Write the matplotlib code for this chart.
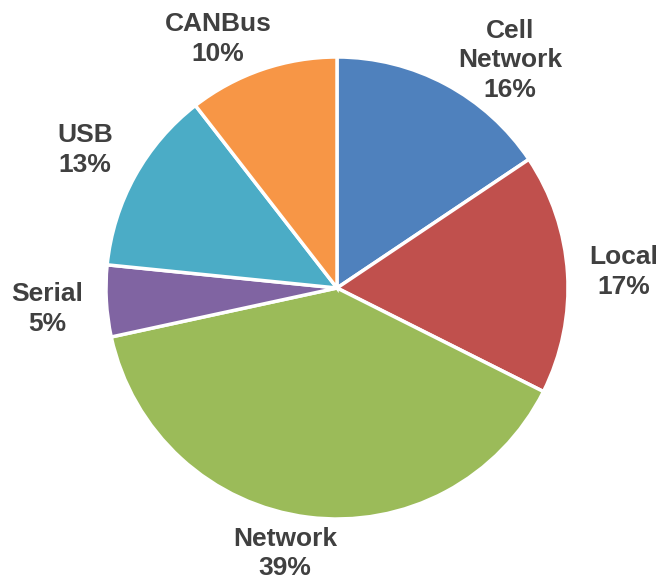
import matplotlib
matplotlib.use("Agg")
import matplotlib.pyplot as plt

categories = ["Cell\nNetwork", "Local", "Network", "Serial", "USB", "CANBus"]
shares = [15.6, 16.8, 39.2, 5.0, 12.9, 10.5]
colors = ["#4F81BD", "#C0504D", "#9BBB59", "#8064A2", "#4BACC6", "#F79646"]
# label positions in pie-radius units (x, y)
label_pos = [(0.749, 0.986), (1.24, 0.068), (-0.225, -1.15),
             (-1.255, -0.09), (-1.09, 0.596), (-0.515, 1.077)]

W, H = 659, 579
fig = plt.figure(figsize=(W / 100, H / 100), dpi=100)
cx, cy, r = 337, 579 - 288, 231
ax = fig.add_axes([(cx - r) / W, (cy - r) / H, 2 * r / W, 2 * r / H])
ax.pie(shares, colors=colors, startangle=90, counterclock=False,
       radius=1, wedgeprops=dict(edgecolor="white", linewidth=2.5))
ax.set_xlim(-1, 1)
ax.set_ylim(-1, 1)
ax.set_aspect("equal")
ax.axis("off")

for cat, s, (x, y) in zip(categories, shares, label_pos):
    ax.text(x, y, f"{cat}\n{s:.0f}%", ha="center", va="center",
            fontsize=19, fontweight="bold", color="#404040",
            family=["Liberation Sans", "DejaVu Sans"], linespacing=1.3,
            clip_on=False)

fig.savefig("out.png", dpi=100)
